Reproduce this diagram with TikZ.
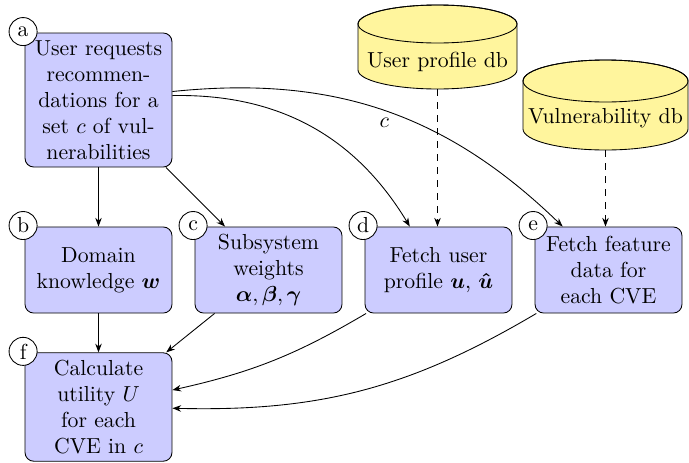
\documentclass[tikz,border=0pt]{standalone}
\usepackage{amsmath,bm}
\usetikzlibrary{arrows.meta}
\definecolor{boxblue}{RGB}{204,204,255}
\definecolor{dbyellow}{RGB}{255,245,157}
\begin{document}
\begin{tikzpicture}[x=0.46pt,y=0.46pt,
  box/.style={draw, fill=boxblue, rounded corners=4pt, align=center, text width=61pt, inner sep=3.3pt, minimum height=39.6pt},
  tag/.style={circle, draw, fill=white, minimum size=12.9pt, inner sep=0pt},
  arr/.style={-{Stealth[length=4pt,width=3pt]}},
  dbarr/.style={arr, dashed},
  db/.style={draw, fill=dbyellow}]
\useasboundingbox (0,0) rectangle (689,-462);

% databases
\path[db] (358,-24) -- (358,-70) arc[start angle=180,end angle=360,x radius=36.57pt,y radius=8.74pt] -- (517,-24) arc[start angle=0,end angle=180,x radius=36.57pt,y radius=8.74pt] -- cycle;
\draw (437.5,-24) ellipse[x radius=36.57pt, y radius=8.74pt];
\node (updb) at (437.5,-61.6) {User profile db};
\coordinate (updbb) at (437.5,-89);

\path[db] (523,-81) -- (523,-129) arc[start angle=180,end angle=360,x radius=37.95pt,y radius=9.66pt] -- (688,-81) arc[start angle=0,end angle=180,x radius=37.95pt,y radius=9.66pt] -- cycle;
\draw (605.5,-81) ellipse[x radius=37.95pt, y radius=9.66pt];
\node (vdb) at (605.5,-118.6) {Vulnerability db};
\coordinate (vdbb) at (605.5,-150);

% boxes
\node[box, minimum height=61.64pt] (a) at (98.5,-100) {User requests\\recommen-\\dations for a\\set $c$ of vul-\\nerabilities};
\node[box] (b) at (98.5,-270) {Domain\\knowledge $\bm{w}$};
\node[box] (c) at (268.5,-270) {Subsystem\\weights\\$\bm{\alpha},\bm{\beta},\bm{\gamma}$};
\node[box] (d) at (438.5,-270) {Fetch user\\profile $\bm{u}$, $\bm{\hat{u}}$};
\node[box] (e) at (608.5,-270) {Fetch feature\\data for\\each CVE};
\node[box, minimum height=49.7pt] (f) at (98.5,-407) {Calculate\\utility $U$\\for each\\CVE in $c$};

% connectors
\draw[dbarr] (updbb) -- (updbb |- d.north);
\draw[dbarr] (vdbb) -- (vdbb |- e.north);
\draw[arr] (a) -- (b);
\draw[arr] (a) -- (c);
\draw[arr] (a) to[bend left=30] (d);
\draw[arr] (a) to[bend left=25] node[below] {$c$} (e);
\draw[arr] (b) -- (f);
\draw[arr] (c) -- (f);
\draw[arr] (d) to[bend left=9] (f);
\draw[arr] (e) to[bend left=16] (f);

% tags
\node[tag] (ta) at ([shift={(-1.5,1)}]a.north west) {a};
\node[tag] (tb) at ([shift={(-1.5,1)}]b.north west) {b};
\node[tag] (tc) at ([shift={(-1.5,1)}]c.north west) {c};
\node[tag] (td) at ([shift={(-1.5,1)}]d.north west) {d};
\node[tag] (te) at ([shift={(-1.5,1)}]e.north west) {e};
\node[tag] (tf) at ([shift={(-1.5,1)}]f.north west) {f};
\end{tikzpicture}
\end{document}
